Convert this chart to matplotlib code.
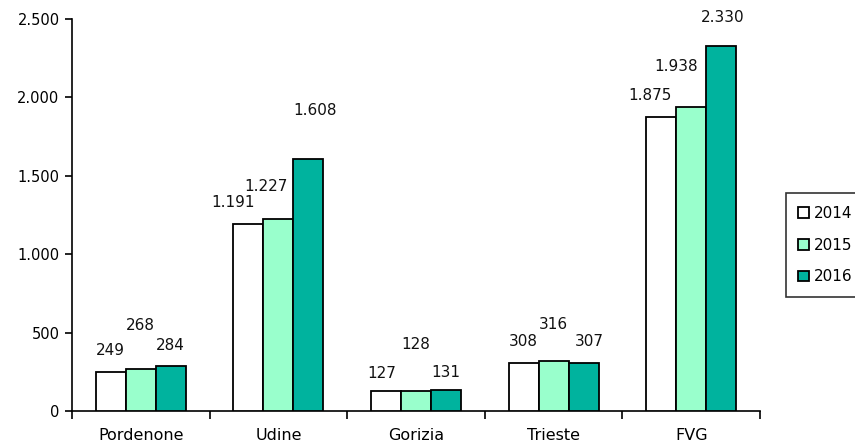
import matplotlib
matplotlib.use("Agg")
import matplotlib.pyplot as plt
import numpy as np

# dati
categories = ["Pordenone", "Udine", "Gorizia", "Trieste", "FVG"]
years = ["2014", "2015", "2016"]
v2014 = [249, 1191, 127, 308, 1875]
v2015 = [268, 1227, 128, 316, 1938]
v2016 = [284, 1608, 131, 307, 2330]
yticks = [0, 500, 1000, 1500, 2000, 2500]

colors = ["#FFFFFF", "#99FFCC", "#00B39E"]

# spostamento etichette (pixel) come nell'originale
label_dx = [[0, -15, -4, 0, -11], [0, -12, 0, 0, -15], [0, 7, 0, 6, 1]]
label_dy = [[21, 22, 18, 21, 22], [43, 32, 46, 37, 41], [21, 48, 18, 21, 28]]


def fmt(v):
    return f"{v:,}".replace(",", ".")


fig = plt.figure(figsize=(8.55, 4.45), dpi=100)
ax = fig.add_axes([72 / 855, 1 - 411 / 445, 688 / 855, (411 - 19) / 445])

x = np.arange(len(categories))
w = 0.218
series = [v2014, v2015, v2016]
for i, vals in enumerate(series):
    bars = ax.bar(x + (i - 1) * w, vals, w, color=colors[i], edgecolor="black",
                  linewidth=1.3, label=years[i], zorder=3)
    for j, b in enumerate(bars):
        ax.annotate(fmt(vals[j]), (b.get_x() + b.get_width() / 2, b.get_height()),
                    xytext=(label_dx[i][j], label_dy[i][j]), textcoords="offset pixels",
                    ha="center", va="center", fontsize=11, color="#111111")

ax.set_xlim(-0.5, len(categories) - 0.5)
ax.set_ylim(0, 2500)
ax.set_yticks(yticks)
ax.set_yticklabels([fmt(t) for t in yticks], fontsize=10.5)
ax.set_xticks(np.arange(len(categories) + 1) - 0.5)
ax.set_xticklabels([])
ax.set_xticks(x, minor=True)
ax.set_xticklabels(categories, minor=True, fontsize=11.5)
ax.tick_params(axis="x", which="minor", length=0, pad=12)
ax.tick_params(axis="x", which="major", direction="out", length=6, width=1.2)
ax.tick_params(axis="y", direction="out", length=5, width=1.2, pad=4)
for s in ["top", "right"]:
    ax.spines[s].set_visible(False)
for s in ["left", "bottom"]:
    ax.spines[s].set_linewidth(1.2)

leg = fig.legend(loc="center left", bbox_to_anchor=(786 / 855, 1 - 245 / 445),
                 fontsize=11, frameon=True, fancybox=False, edgecolor="black",
                 handlelength=0.7, handleheight=0.7, handletextpad=0.3,
                 labelspacing=1.1, borderpad=0.8, borderaxespad=0)
leg.get_frame().set_linewidth(1.2)

fig.savefig("out.png", dpi=100)
